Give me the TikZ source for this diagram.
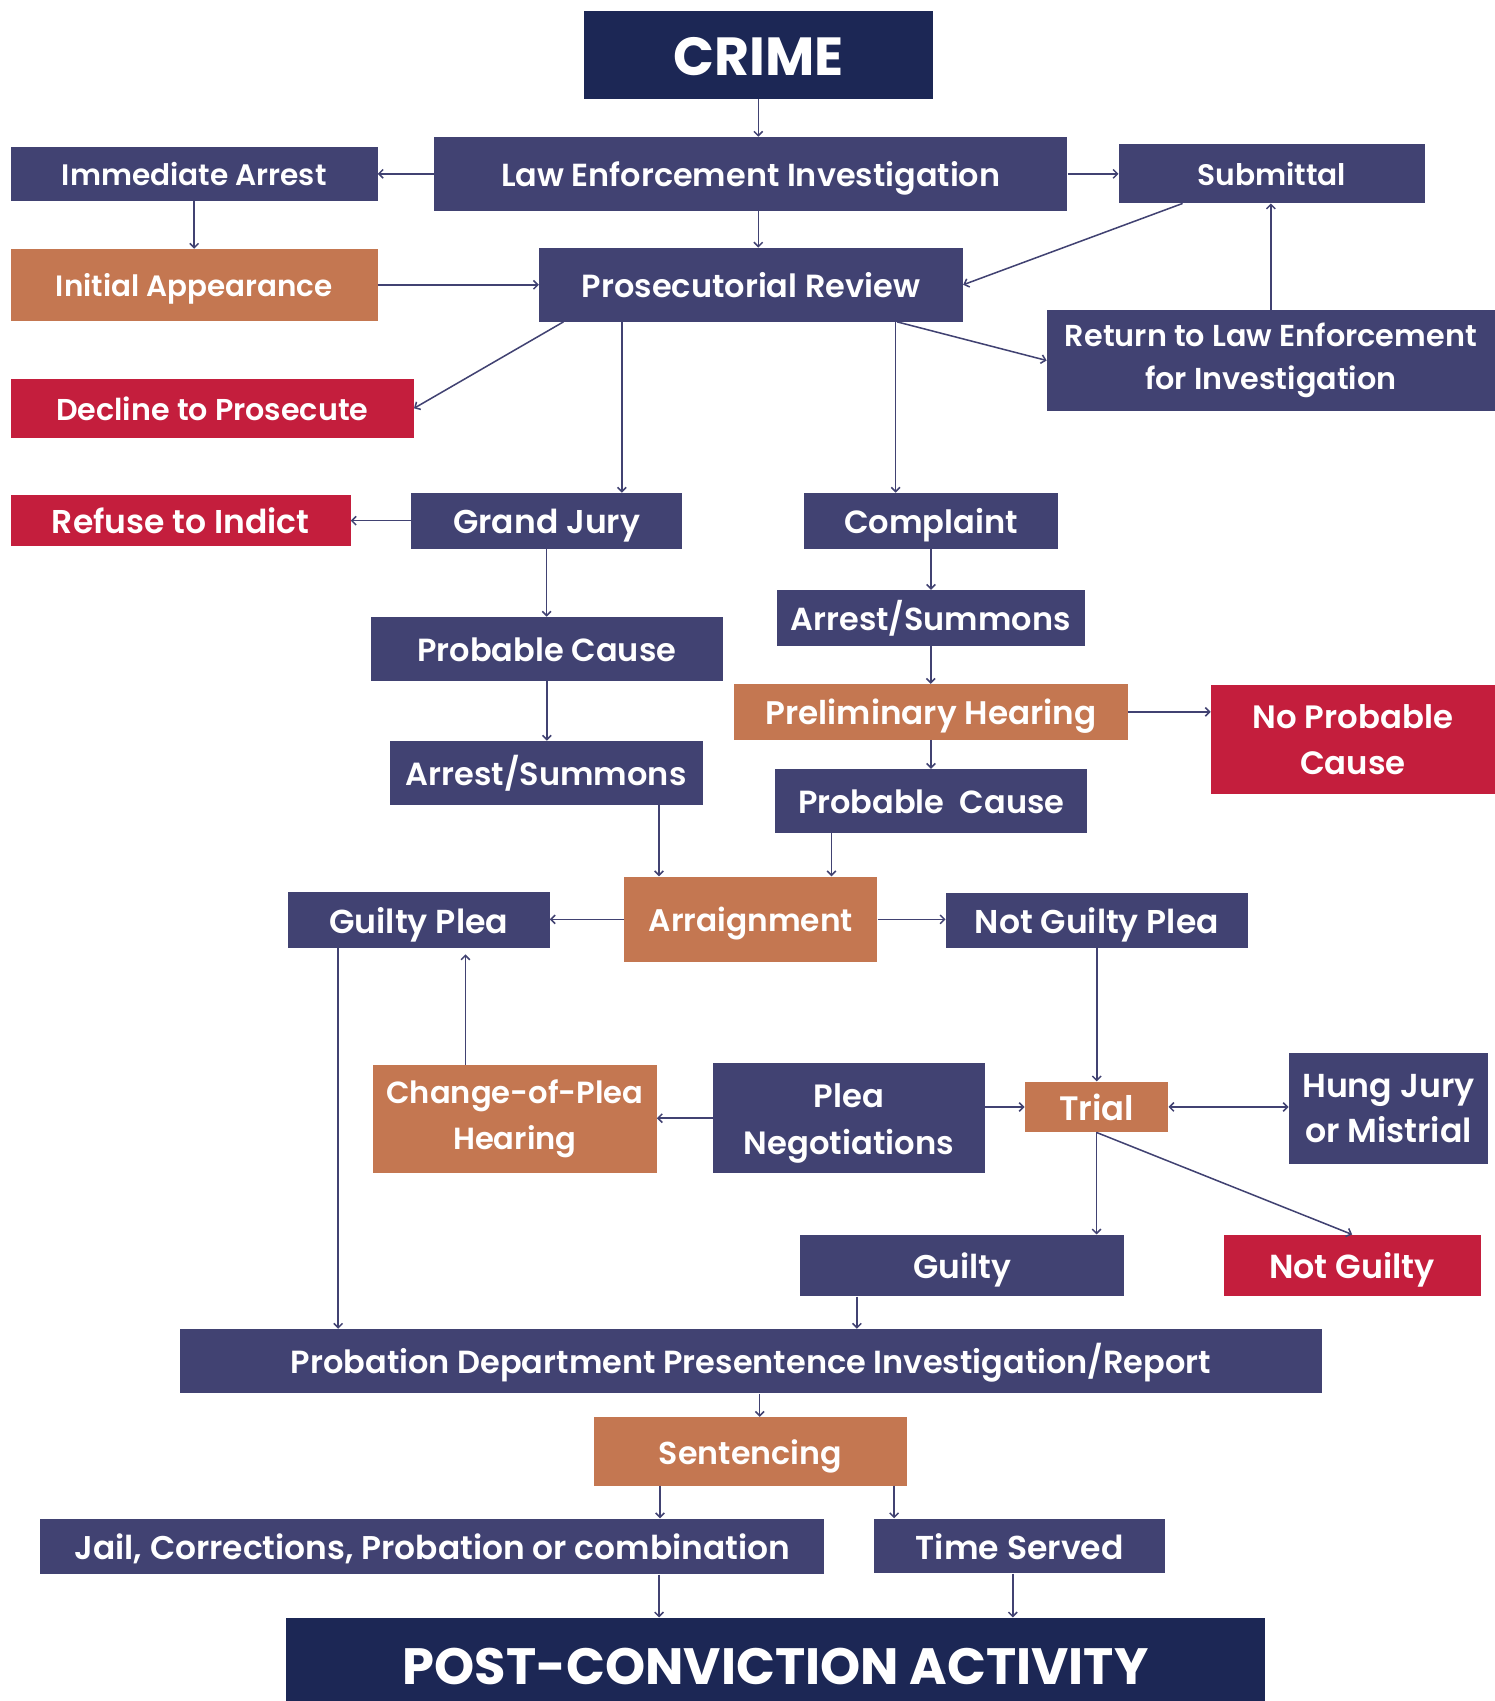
\documentclass[tikz,border=0pt]{standalone}
\usepackage{fontspec}
\usetikzlibrary{arrows.meta,calc}
\newfontfamily\pop{Poppins SemiBold}
\newfontfamily\popb{Poppins Bold}
\definecolor{navyc}{HTML}{1C2755}
\definecolor{slatec}{HTML}{414272}
\definecolor{orangec}{HTML}{C47751}
\definecolor{redc}{HTML}{C41E3D}
\definecolor{linec}{HTML}{414272}
\begin{document}
\begin{tikzpicture}[x=1pt,y=-1pt,
 box/.style={rectangle, inner sep=0pt, text=white, align=center},
 navybox/.style={box, fill=navyc},
 slatebox/.style={box, fill=slatec},
 orangebox/.style={box, fill=orangec},
 redbox/.style={box, fill=redc},
 wh/.style 2 args={minimum width=#1pt, minimum height=#2pt},
 fs/.style={/utils/exec={\pgfmathsetlengthmacro\myth{0.7*#1+3}}, font=\pop\fontsize{#1}{42}\selectfont, text height=\myth, text depth=0pt},
 fsb/.style={/utils/exec={\pgfmathsetlengthmacro\myth{0.7*#1+3}}, font=\popb\fontsize{#1}{50}\selectfont, text height=\myth, text depth=0pt},
 fm/.style 2 args={font=\pop\fontsize{#1}{#2}\selectfont},
 conn/.style={draw=linec, line width=1.4pt, -{Straight Barb[length=4pt,width=8pt]}}]
\fill[white] (0,0) rectangle (1378,1568);
\useasboundingbox (0,0) rectangle (1378,1568);
\clip (0,0) rectangle (1378,1568);
% nodes
\node[navybox, fsb=49.5, wh={322}{81}] (crime) at (699,50.5) {CRIME};
\node[slatebox, fs=29.4, wh={584}{68}] (lei) at (692,160.25) {Law Enforcement Investigation};
\node[slatebox, fs=27.3, wh={338}{49.5}] (ia) at (179,160.25) {Immediate Arrest};
\node[slatebox, fs=27.4, wh={282}{54.7}] (sub) at (1172.3,160) {Submittal};
\node[orangebox, fs=27.1, wh={338}{66}] (iapp) at (179,262.5) {Initial Appearance};
\node[slatebox, fs=29.5, wh={390.7}{68}] (pr) at (692.3,262.5) {Prosecutorial Review};
\node[slatebox, fm={27.9}{40}, wh={413}{92.7}, yshift=-2pt] (ret) at (1171.5,330.3) {Return to Law Enforcement\\for Investigation};
\node[redbox, fs=27.8, wh={371.4}{54}] (dec) at (195.7,376.4) {Decline to Prosecute};
\node[redbox, fs=30.4, wh={313}{46.7}] (ref) at (166.6,479.7) {Refuse to Indict};
\node[slatebox, fs=30.4, wh={250.4}{51.3}] (gj) at (503.9,480) {Grand Jury};
\node[slatebox, fs=29.6, wh={234.5}{51.3}] (comp) at (858.2,480) {Complaint};
\node[slatebox, fs=29.4, wh={283.5}{51.3}] (asr) at (858,569.5) {Arrest/Summons};
\node[slatebox, fs=29.5, wh={324}{58.7}] (pcl) at (504.1,598) {Probable Cause};
\node[orangebox, fs=30.1, wh={362.4}{51.3}] (prel) at (858.2,656.2) {Preliminary Hearing};
\node[redbox, fm={29.8}{42}, wh={261.8}{100.8}] (npc) at (1247.1,681.8) {No Probable\\Cause};
\node[slatebox, fs=29.5, wh={288.3}{58.7}] (asl) at (503.5,712.3) {Arrest/Summons};
\node[slatebox, fs=29.5, wh={288}{58.7}] (pcr) at (858.4,738.2) {Probable\ \ Cause};
\node[orangebox, fs=28.8, wh={233.4}{79}] (arr) at (692.1,847.5) {Arraignment};
\node[slatebox, fs=30.6, wh={241.2}{51.3}] (gp) at (386,847.9) {Guilty Plea};
\node[slatebox, fs=30.4, wh={278.3}{50.4}] (ngp) at (1011,848.3) {Not Guilty Plea};
\node[orangebox, fm={28.2}{43}, wh={261.4}{99.3}] (cop) at (474.6,1031.2) {Change-of-Plea\\Hearing};
\node[slatebox, fm={29.7}{43}, wh={250.3}{101.8}] (pn) at (782.5,1030.7) {\rule{0pt}{32pt}Plea\\Negotiations};
\node[orangebox, fs=31.2, wh={132.3}{46.6}] (trial) at (1010.8,1020.4) {Trial};
\node[slatebox, fm={30.6}{42}, wh={183.8}{101.7}] (hung) at (1279.9,1021.7) {Hung Jury\\or Mistrial};
\node[slatebox, fs=30.3, wh={298.9}{56.9}] (guilty) at (886.9,1166.6) {Guilty};
\node[redbox, fs=30.7, wh={236.7}{56.9}] (ng) at (1246.4,1166.6) {Not Guilty};
\node[slatebox, fs=29.5, wh={1053}{59.3}] (prob) at (692.3,1254.7) {Probation Department Presentence Investigation/Report};
\node[orangebox, fs=29.2, wh={288.1}{63.1}] (sent) at (691.7,1337.8) {Sentencing};
\node[slatebox, fs=30.3, wh={722.9}{51.4}] (jail) at (398.5,1425.5) {Jail, Corrections, Probation or combination};
\node[slatebox, fs=30.5, wh={268.5}{50.6}] (ts) at (940,1425.1) {Time Served};
\node[navybox, fsb=47.1, wh={902.8}{86.8}] (post) at (715,1534.6) {POST-CONVICTION ACTIVITY};
% connectors
\draw[conn] (crime.south) -- (crime.south |- lei.north);
\draw[conn] (lei.west) -- (lei.west -| ia.east);
\draw[conn] (lei.east) -- (lei.east -| sub.west);
\draw[conn] (crime.south |- lei.south) -- (crime.south |- pr.north);
\draw[conn] (ia.south) -- (iapp.north);
\draw[conn] (iapp.east) -- (iapp.east -| pr.west);
\draw[conn] ($(sub.south)+(-82.2,0)$) -- (pr.east);
\draw[conn] (ret.north) -- (ret.north |- sub.south);
\draw[conn] ($(pr.south)+(-172.9,0)$) -- (dec.east);
\draw[conn] ($(pr.south)+(-119.1,0)$) coordinate (p1) -- (p1 |- gj.north);
\draw[conn] ($(pr.south)+(133.3,0)$) coordinate (p2) -- (p2 |- comp.north);
\draw[conn] ($(pr.south)+(134.6,0)$) -- (ret.west);
\draw[conn] (gj.west) -- (gj.west -| ref.east);
\draw[conn] (gj.south) -- (gj.south |- pcl.north);
\draw[conn] (pcl.south) -- (pcl.south |- asl.north);
\draw[conn] (comp.south) -- (comp.south |- asr.north);
\draw[conn] (asr.south) -- (asr.south |- prel.north);
\draw[conn] (prel.south) -- (prel.south |- pcr.north);
\draw[conn] (prel.east) -- (prel.east -| npc.west);
\draw[conn] ($(asl.south)+(104,0)$) coordinate (p3) -- (p3 |- arr.north);
\draw[conn] ($(pcr.south)+(-91.9,0)$) coordinate (p4) -- (p4 |- arr.north);
\draw[conn] (arr.west) -- (arr.west -| gp.east);
\draw[conn] (arr.east) -- (arr.east -| ngp.west);
\draw[conn] ($(gp.south)+(-74.3,0)$) coordinate (p5) -- (p5 |- prob.north);
\draw[conn] ($(cop.north)+(-45.6,0)$) coordinate (p6) -- ($(p6 |- gp.south)+(0,6)$);
\draw[conn] (pn.west) -- (pn.west -| cop.east);
\draw[conn] (pn.east |- trial.west) -- (trial.west);
\draw[conn, {Straight Barb[length=4pt,width=8pt]}-{Straight Barb[length=4pt,width=8pt]}] (trial.east) -- (trial.east -| hung.west);
\draw[conn] (ngp.south) -- (ngp.south |- trial.north);
\draw[conn] (trial.south) -- (trial.south |- guilty.north);
\draw[conn] (trial.south) -- (ng.north);
\draw[conn] ($(guilty.south)+(-97,0)$) coordinate (p7) -- (p7 |- prob.north);
\draw[conn] ($(prob.south)+(8,0)$) coordinate (p8) -- (p8 |- sent.north);
\draw[conn] ($(sent.south)+(-83.3,0)$) coordinate (p9) -- (p9 |- jail.north);
\draw[conn] ($(sent.south)+(132.5,0)$) coordinate (p10) -- (p10 |- ts.north);
\draw[conn] ($(jail.south)+(209,0)$) coordinate (p11) -- (p11 |- post.north);
\draw[conn] ($(ts.south)+(-6.4,0)$) coordinate (p12) -- (p12 |- post.north);
\end{tikzpicture}
\end{document}
